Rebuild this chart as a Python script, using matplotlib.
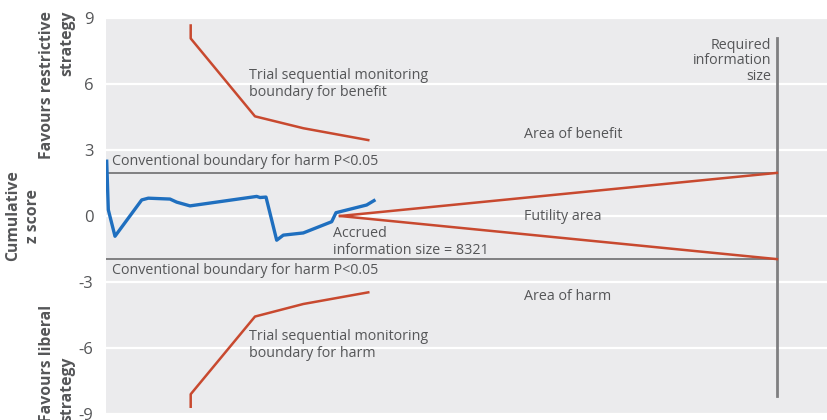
import matplotlib
matplotlib.use("Agg")
import matplotlib.pyplot as plt

plt.rcParams['font.family'] = ['Open Sans', 'DejaVu Sans']

# Cumulative z curve (x = cumulative information, patients)
z_x = [25, 82, 320, 1270, 1504, 2276, 2514, 2987, 5359, 5477, 5690, 6070, 6305, 7016, 8026, 8179, 9270, 9530]
z_y = [2.49, 0.28, -0.92, 0.73, 0.81, 0.77, 0.63, 0.46, 0.89, 0.84, 0.86, -1.10, -0.87, -0.77, -0.26, 0.15, 0.50, 0.70]

# Trial sequential monitoring boundaries
benefit_x = [3012, 3012, 5298, 7016, 9327]
benefit_y = [8.66, 8.07, 4.53, 3.99, 3.45]
harm_x = [3012, 3012, 5298, 7016, 9327]
harm_y = [-8.67, -8.10, -4.57, -4.00, -3.47]

# Futility boundaries
futility_x = [8321, 23860]
futility_upper = [0, 1.96]
futility_lower = [0, -1.96]

conventional = [1.96, -1.96]
accrued_info = 8321
required_info = 23860
required_span = [-8.2, 8.1]

yticks = [9, 6, 3, 0, -3, -6, -9]
ytick_labels = ['9', '6', '3', '0', '-3', '-6', '-9']

TXT = '#555658'
RED = '#c8492f'
BLUE = '#1f6fbf'

fig = plt.figure(figsize=(8.27, 4.20), dpi=100)
ax = fig.add_axes([106/827, 6/420, 721/827, 396/420])
ax.set_facecolor('#ebebed')
ax.set_xlim(0, 25640)
ax.set_ylim(-9, 9)
for s in ax.spines.values():
    s.set_visible(False)
ax.set_xticks([])
ax.set_yticks(yticks)
ax.set_yticklabels(ytick_labels)
ax.tick_params(axis='y', length=0, pad=9, labelsize=12, labelcolor=TXT)
ax.grid(axis='y', color='white', linewidth=1.6)
ax.set_axisbelow(True)

for c in conventional:
    ax.plot([0, required_info], [c, c], color='#6d6e70', lw=1.2, zorder=2)
ax.plot([required_info, required_info], required_span, color='#7f7f81', lw=2, zorder=2)

ax.plot(benefit_x, benefit_y, color=RED, lw=1.8, zorder=3)
ax.plot(harm_x, harm_y, color=RED, lw=1.8, zorder=3)
ax.plot(futility_x, futility_upper, color=RED, lw=1.8, zorder=3)
ax.plot(futility_x, futility_lower, color=RED, lw=1.8, zorder=3)
ax.plot(z_x, z_y, color=BLUE, lw=2.4, zorder=4, solid_joinstyle='round')

fs = 10.3
def T(x, y, s, **kw):
    ax.text(x, y, s, fontsize=fs, color=TXT, **kw)

T(200, 2.48, 'Conventional boundary for harm P<0.05', va='center', ha='left')
T(200, -2.5, 'Conventional boundary for harm P<0.05', va='center', ha='left')
T(5100, 6.0, 'Trial sequential monitoring\nboundary for benefit', va='center', ha='left', linespacing=1.15)
T(5100, -5.85, 'Trial sequential monitoring\nboundary for harm', va='center', ha='left', linespacing=1.15)
T(14860, 3.7, 'Area of benefit', va='center', ha='left')
T(14860, 0.0, 'Futility area', va='center', ha='left')
T(14860, -3.67, 'Area of harm', va='center', ha='left')
T(8070, -1.18, 'Accrued\ninformation size = %d' % accrued_info, va='center', ha='left', linespacing=1.15)
T(required_info - 200, 7.05, 'Required\ninformation\nsize', va='center', ha='right', linespacing=1.05)

fig.text(23/827, 1 - 216/420, 'Cumulative\nz score', rotation=90, ha='center', va='center',
         fontsize=11.3, fontweight='bold', color=TXT, multialignment='center', linespacing=1.35)
fig.text(57/827, 1 - 11/420, 'Favours restrictive\nstrategy', rotation=90, ha='center', va='top',
         fontsize=11.3, fontweight='bold', color=TXT, multialignment='right', linespacing=1.3)
fig.text(57/827, -2/420, 'Favours liberal\nstrategy', rotation=90, ha='center', va='bottom',
         fontsize=11.3, fontweight='bold', color=TXT, multialignment='left', linespacing=1.3)

fig.savefig('out.png', dpi=100)
